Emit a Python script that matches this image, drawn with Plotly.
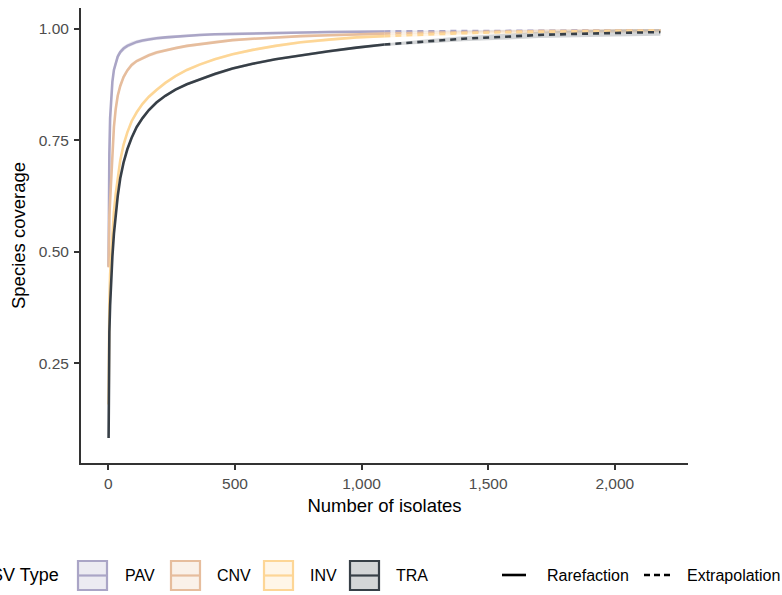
import plotly.graph_objects as go

# ---- data -------------------------------------------------------------
sv_types = ["PAV", "CNV", "INV", "TRA"]
line_colors = ["#aaa5c6", "#e6bd9d", "#fdd696", "#373f47"]
fill_colors = ["rgba(170,165,198,0.22)", "rgba(230,189,157,0.22)",
               "rgba(253,214,150,0.22)", "rgba(55,63,71,0.22)"]

# sample sizes (number of isolates)
m_rare = [1, 2, 4, 7, 11, 16, 22, 29, 37, 47, 60, 75, 92, 112, 135, 160,
          190, 225, 265, 310, 360, 420, 490, 570, 660, 760, 870, 980, 1090]
m_extra = [1090, 1250, 1400, 1550, 1700, 1850, 2000, 2180]

# sample coverage, rarefaction part
cov_rare_pav = [0.467, 0.620, 0.720, 0.800, 0.850, 0.882, 0.908, 0.925,
                0.938, 0.948, 0.956, 0.962, 0.967, 0.971, 0.974, 0.977,
                0.979, 0.981, 0.983, 0.985, 0.9865, 0.988, 0.989, 0.990,
                0.991, 0.992, 0.993, 0.9937, 0.9944]
cov_rare_cnv = [0.465, 0.530, 0.580, 0.615, 0.665, 0.725, 0.780, 0.820,
                0.850, 0.872, 0.892, 0.907, 0.919, 0.928, 0.935, 0.941,
                0.947, 0.952, 0.957, 0.962, 0.966, 0.971, 0.975, 0.978,
                0.981, 0.984, 0.986, 0.988, 0.9895]
cov_rare_inv = [0.157, 0.300, 0.390, 0.450, 0.495, 0.545, 0.590, 0.630,
                0.668, 0.705, 0.740, 0.768, 0.793, 0.813, 0.832, 0.848,
                0.863, 0.879, 0.894, 0.908, 0.920, 0.932, 0.943, 0.953,
                0.962, 0.970, 0.976, 0.981, 0.984]
cov_rare_tra = [0.082, 0.240, 0.320, 0.380, 0.435, 0.490, 0.540, 0.585,
                0.625, 0.665, 0.700, 0.730, 0.756, 0.780, 0.800, 0.818,
                0.835, 0.850, 0.864, 0.876, 0.887, 0.899, 0.911, 0.922,
                0.932, 0.941, 0.950, 0.958, 0.965]

# sample coverage, extrapolation part
cov_extra_pav = [0.9944, 0.9950, 0.9956, 0.9960, 0.9963, 0.9966, 0.9968, 0.9970]
cov_extra_cnv = [0.9895, 0.9915, 0.9930, 0.9942, 0.9950, 0.9957, 0.9962, 0.9966]
cov_extra_inv = [0.984, 0.988, 0.9905, 0.9925, 0.994, 0.995, 0.9958, 0.9963]
cov_extra_tra = [0.965, 0.972, 0.978, 0.982, 0.9865, 0.989, 0.991, 0.993]

# half width of the confidence band
ci_rare = [0.010, 0.010, 0.010, 0.010, 0.010, 0.010, 0.009, 0.008, 0.007,
           0.006, 0.006, 0.005, 0.005, 0.004, 0.004, 0.004, 0.004, 0.003,
           0.003, 0.003, 0.003, 0.003, 0.003, 0.003, 0.003, 0.003, 0.003,
           0.003, 0.003]
ci_extra_pav = [0.001, 0.0015, 0.002, 0.002, 0.0025, 0.0025, 0.0025, 0.003]
ci_extra_cnv = [0.002, 0.0025, 0.003, 0.003, 0.0035, 0.0035, 0.0035, 0.0035]
ci_extra_inv = [0.003, 0.0035, 0.004, 0.004, 0.0045, 0.0045, 0.0045, 0.0045]
ci_extra_tra = [0.003, 0.0045, 0.0055, 0.0065, 0.007, 0.0075, 0.008, 0.0085]

x_ticks = [0, 500, 1000, 1500, 2000]
x_tick_labels = ["0", "500", "1,000", "1,500", "2,000"]
y_ticks = [0.25, 0.50, 0.75, 1.00]
y_tick_labels = ["0.25", "0.50", "0.75", "1.00"]

rare = [cov_rare_pav, cov_rare_cnv, cov_rare_inv, cov_rare_tra]
extra = [cov_extra_pav, cov_extra_cnv, cov_extra_inv, cov_extra_tra]
ci_extra = [ci_extra_pav, ci_extra_cnv, ci_extra_inv, ci_extra_tra]

FONT = "Liberation Sans, Arial, Helvetica, sans-serif"
AXIS = "#333333"
LW = 2.6

fig = go.Figure()

# confidence bands
for k in range(4):
    xs = m_rare + m_extra[1:]
    ys = rare[k] + extra[k][1:]
    hw = ci_rare + ci_extra[k][1:]
    upper = [min(y + h, 1.0) for y, h in zip(ys, hw)]
    lower = [y - h for y, h in zip(ys, hw)]
    fig.add_trace(go.Scatter(
        x=xs + xs[::-1], y=upper + lower[::-1], fill="toself",
        fillcolor=fill_colors[k], line=dict(width=0), mode="lines",
        hoverinfo="skip", showlegend=False))

# rarefaction (solid) and extrapolation (dashed) curves
for k in range(4):
    fig.add_trace(go.Scatter(
        x=m_rare, y=rare[k], mode="lines", name=sv_types[k],
        line=dict(color=line_colors[k], width=LW), showlegend=False))
    fig.add_trace(go.Scatter(
        x=m_extra, y=extra[k], mode="lines", name=sv_types[k],
        line=dict(color=line_colors[k], width=LW, dash="6px,5px"),
        showlegend=False))

# ---- layout -----------------------------------------------------------
W, H = 782, 595
L, R, T, B = 81, 94, 8, 132
PW, PH = W - L - R, H - T - B


def px(x):
    return (x - L) / PW


def py(y):
    return (H - B - y) / PH


shapes = []
annotations = []

# legend: SV type keys (the centred legend is wider than the page)
annotations.append(dict(x=px(61), y=py(575), xref="paper", yref="paper",
                        text="SV Type", showarrow=False, xanchor="right",
                        yanchor="middle", font=dict(size=18, color="black",
                                                    family=FONT)))
key_left = [78, 171, 264, 350]
text_left = [123, 215, 308, 394]
for k in range(4):
    x0, x1 = key_left[k], key_left[k] + 29
    y0, y1 = 561, 590
    shapes.append(dict(type="rect", xref="paper", yref="paper",
                       x0=px(x0), x1=px(x1), y0=py(y1), y1=py(y0),
                       fillcolor=fill_colors[k],
                       line=dict(color=line_colors[k], width=2.2)))
    shapes.append(dict(type="line", xref="paper", yref="paper",
                       x0=px(x0), x1=px(x1), y0=py(575.5), y1=py(575.5),
                       line=dict(color=line_colors[k], width=2.2)))
    annotations.append(dict(x=px(text_left[k]), y=py(575), xref="paper",
                            yref="paper", text=sv_types[k], showarrow=False,
                            xanchor="left", yanchor="middle",
                            font=dict(size=16, color="black", family=FONT)))

# legend: line types
shapes.append(dict(type="line", xref="paper", yref="paper",
                   x0=px(502), x1=px(526), y0=py(575), y1=py(575),
                   line=dict(color="black", width=2.6)))
shapes.append(dict(type="line", xref="paper", yref="paper",
                   x0=px(644), x1=px(670), y0=py(575), y1=py(575),
                   line=dict(color="black", width=2.6, dash="6px,4px")))
annotations.append(dict(x=px(545), y=py(575), xref="paper", yref="paper",
                        text="Rarefaction", showarrow=False, xanchor="left",
                        yanchor="middle",
                        font=dict(size=16, color="black", family=FONT)))
annotations.append(dict(x=px(685), y=py(575), xref="paper", yref="paper",
                        text="Extrapolation", showarrow=False, xanchor="left",
                        yanchor="middle",
                        font=dict(size=16, color="black", family=FONT)))

fig.update_layout(
    width=W, height=H,
    margin=dict(l=L, r=R, t=T, b=B),
    paper_bgcolor="white", plot_bgcolor="white",
    font=dict(family=FONT),
    showlegend=False,
    shapes=shapes,
    annotations=annotations,
    xaxis=dict(
        range=[-108, 2289], tickvals=x_ticks, ticktext=x_tick_labels,
        showgrid=False, zeroline=False, showline=True, linecolor=AXIS,
        linewidth=2, ticks="outside", ticklen=5, tickwidth=2,
        tickcolor=AXIS, tickfont=dict(size=15.5, color="#4d4d4d"),
        title=dict(text="Number of isolates", standoff=8,
                   font=dict(size=18.5, color="black"))),
    yaxis=dict(
        range=[0.026, 1.047], tickvals=y_ticks, ticktext=y_tick_labels,
        showgrid=False, zeroline=False, showline=True, linecolor=AXIS,
        linewidth=2, ticks="outside", ticklen=5, tickwidth=2,
        tickcolor=AXIS, tickfont=dict(size=15.5, color="#4d4d4d"),
        ticklabelstandoff=2,
        title=dict(text="Species coverage", standoff=8,
                   font=dict(size=18.5, color="black"))),
)

fig.write_html("out.html")
